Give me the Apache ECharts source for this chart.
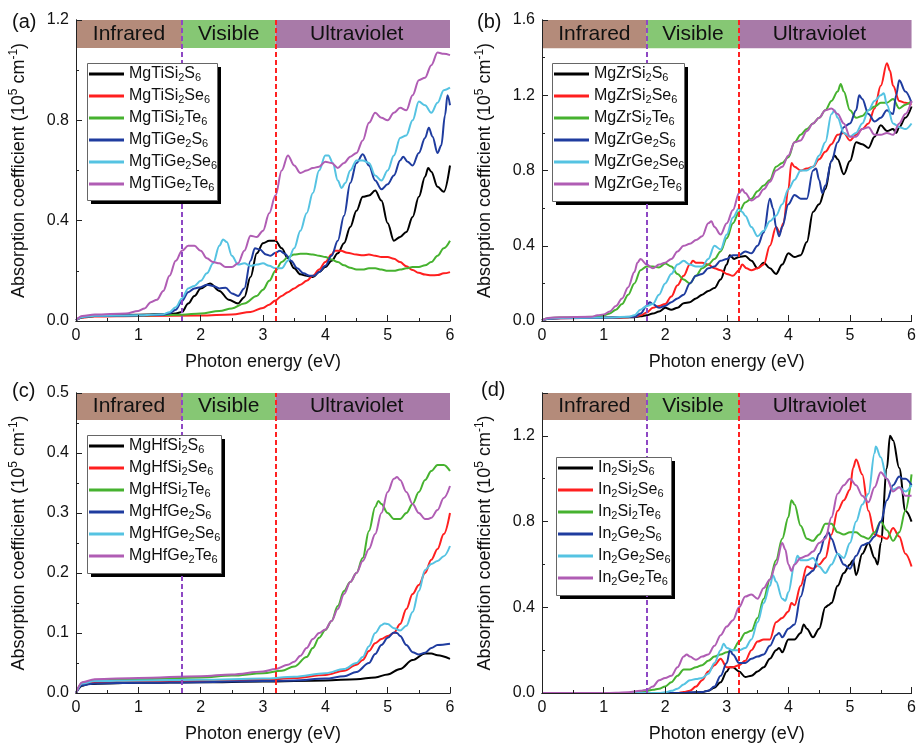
<!DOCTYPE html>
<html>
<head>
<meta charset="utf-8">
<script src="https://cdn.jsdelivr.net/npm/echarts@6/dist/echarts.min.js"></script>
<style>
  html, body { margin: 0; padding: 0; background: #fff; }
  #main { width: 919px; height: 745px; }
</style>
</head>
<body>
<div id="main"></div>
<script>
// 吸收系数数据 (x: eV, y: 10^5 cm^-1)
const panelLabels = ['(a)', '(b)', '(c)', '(d)']
const bandNames = ['Infrared', 'Visible', 'Ultraviolet']
const bandEdges = [0, 1.7, 3.2, 6]
const yMax = [1.2, 1.6, 0.5, 1.4]
const yStep = [0.4, 0.4, 0.1, 0.4]
const bandBottom = [1.088, 1.45, 0.455, 1.274]

const namesA = ['MgTiSi2S6', 'MgTiSi2Se6', 'MgTiSi2Te6', 'MgTiGe2S6', 'MgTiGe2Se6', 'MgTiGe2Te6']
const namesB = ['MgZrSi2S6', 'MgZrSi2Se6', 'MgZrSi2Te6', 'MgZrGe2S6', 'MgZrGe2Se6', 'MgZrGe2Te6']
const namesC = ['MgHfSi2S6', 'MgHfSi2Se6', 'MgHfSi2Te6', 'MgHfGe2S6', 'MgHfGe2Se6', 'MgHfGe2Te6']
const namesD = ['In2Si2S6', 'In2Si2Se6', 'In2Si2Te6', 'In2Ge2S6', 'In2Ge2Se6', 'In2Ge2Te6']

// (a)
const aSiS = [[0,0.003],[0.1,0.015],[0.3,0.022],[1.0,0.025],[1.5,0.028],[1.6,0.03],[1.7,0.036],[1.8,0.07],[1.9,0.1],[2.0,0.13],[2.15,0.15],[2.3,0.12],[2.45,0.085],[2.6,0.07],[2.7,0.095],[2.8,0.175],[2.9,0.27],[3.0,0.31],[3.1,0.32],[3.2,0.32],[3.3,0.29],[3.4,0.25],[3.5,0.21],[3.6,0.186],[3.7,0.18],[3.8,0.175],[3.9,0.195],[4.0,0.215],[4.1,0.24],[4.2,0.27],[4.3,0.31],[4.4,0.375],[4.5,0.44],[4.6,0.495],[4.7,0.5],[4.8,0.52],[4.9,0.48],[5.0,0.39],[5.1,0.32],[5.2,0.335],[5.3,0.355],[5.4,0.415],[5.5,0.495],[5.6,0.575],[5.65,0.61],[5.7,0.595],[5.8,0.535],[5.9,0.515],[6.0,0.62]]
const aSiSe = [[0,0.003],[0.1,0.014],[0.3,0.018],[1.0,0.02],[2.0,0.022],[2.5,0.026],[2.8,0.036],[3.0,0.052],[3.1,0.065],[3.2,0.082],[3.3,0.1],[3.4,0.115],[3.5,0.13],[3.6,0.145],[3.7,0.16],[3.8,0.18],[3.9,0.205],[4.0,0.235],[4.1,0.265],[4.15,0.28],[4.25,0.28],[4.35,0.272],[4.5,0.265],[4.6,0.262],[4.7,0.265],[4.8,0.26],[4.9,0.255],[5.0,0.255],[5.1,0.248],[5.2,0.235],[5.3,0.218],[5.4,0.203],[5.5,0.192],[5.6,0.185],[5.7,0.182],[5.8,0.183],[5.9,0.19],[6.0,0.195]]
const aSiTe = [[0,0.003],[0.1,0.015],[0.3,0.02],[1.0,0.022],[1.7,0.025],[2.0,0.03],[2.3,0.04],[2.5,0.05],[2.7,0.07],[2.9,0.1],[3.0,0.125],[3.1,0.16],[3.2,0.2],[3.3,0.235],[3.4,0.255],[3.5,0.265],[3.6,0.268],[3.7,0.268],[3.8,0.265],[3.9,0.26],[4.0,0.255],[4.1,0.245],[4.2,0.235],[4.3,0.222],[4.4,0.212],[4.5,0.205],[4.6,0.205],[4.7,0.21],[4.8,0.21],[4.9,0.205],[5.0,0.2],[5.1,0.2],[5.2,0.205],[5.3,0.21],[5.4,0.215],[5.5,0.215],[5.6,0.222],[5.7,0.235],[5.8,0.26],[5.9,0.29],[6.0,0.32]]
const aGeS = [[0,0.003],[0.1,0.015],[0.3,0.02],[1.0,0.022],[1.4,0.025],[1.5,0.03],[1.6,0.045],[1.7,0.08],[1.8,0.115],[1.9,0.13],[2.0,0.135],[2.1,0.145],[2.2,0.14],[2.3,0.13],[2.4,0.133],[2.5,0.11],[2.6,0.1],[2.7,0.13],[2.8,0.24],[2.87,0.29],[2.95,0.285],[3.05,0.265],[3.12,0.26],[3.2,0.272],[3.27,0.28],[3.35,0.268],[3.45,0.24],[3.55,0.21],[3.65,0.19],[3.75,0.18],[3.82,0.18],[3.9,0.195],[4.0,0.22],[4.1,0.26],[4.2,0.32],[4.3,0.42],[4.4,0.55],[4.5,0.63],[4.6,0.665],[4.7,0.62],[4.8,0.56],[4.9,0.525],[5.0,0.545],[5.1,0.58],[5.2,0.64],[5.25,0.655],[5.32,0.635],[5.4,0.62],[5.5,0.67],[5.6,0.73],[5.66,0.77],[5.72,0.735],[5.8,0.67],[5.86,0.7],[5.92,0.82],[5.96,0.9],[6.0,0.86]]
const aGeSe = [[0,0.003],[0.1,0.016],[0.3,0.021],[1.0,0.023],[1.4,0.027],[1.5,0.035],[1.6,0.055],[1.7,0.09],[1.8,0.13],[1.9,0.14],[2.0,0.16],[2.1,0.19],[2.2,0.23],[2.3,0.3],[2.36,0.325],[2.42,0.315],[2.5,0.26],[2.6,0.225],[2.7,0.23],[2.8,0.22],[2.9,0.225],[3.0,0.23],[3.1,0.22],[3.2,0.21],[3.3,0.21],[3.4,0.24],[3.5,0.29],[3.6,0.36],[3.7,0.43],[3.8,0.51],[3.9,0.6],[4.0,0.66],[4.05,0.66],[4.12,0.63],[4.2,0.56],[4.26,0.53],[4.32,0.55],[4.4,0.6],[4.5,0.64],[4.6,0.64],[4.7,0.63],[4.8,0.58],[4.9,0.56],[5.0,0.6],[5.1,0.66],[5.2,0.73],[5.3,0.74],[5.4,0.8],[5.5,0.875],[5.6,0.86],[5.7,0.83],[5.8,0.87],[5.9,0.92],[6.0,0.93]]
const aGeTe = [[0,0.003],[0.1,0.02],[0.3,0.026],[0.8,0.03],[1.0,0.04],[1.1,0.05],[1.2,0.075],[1.3,0.085],[1.4,0.12],[1.5,0.18],[1.6,0.24],[1.7,0.28],[1.8,0.3],[1.9,0.3],[2.0,0.28],[2.1,0.25],[2.2,0.235],[2.3,0.23],[2.4,0.215],[2.5,0.215],[2.6,0.23],[2.7,0.28],[2.8,0.34],[2.9,0.335],[3.0,0.36],[3.1,0.43],[3.2,0.5],[3.3,0.6],[3.4,0.66],[3.5,0.62],[3.6,0.59],[3.7,0.6],[3.8,0.61],[3.9,0.615],[4.0,0.635],[4.1,0.63],[4.2,0.61],[4.3,0.63],[4.4,0.655],[4.5,0.67],[4.6,0.72],[4.7,0.79],[4.8,0.83],[4.9,0.81],[5.0,0.8],[5.1,0.83],[5.2,0.85],[5.3,0.84],[5.4,0.9],[5.5,0.96],[5.6,0.97],[5.7,1.02],[5.8,1.07],[5.9,1.065],[6.0,1.06]]

// (b)
const bSiS = [[0,0.003],[0.1,0.012],[0.3,0.016],[1.0,0.018],[1.5,0.02],[1.6,0.025],[1.7,0.03],[1.8,0.04],[1.9,0.05],[2.0,0.07],[2.1,0.06],[2.2,0.07],[2.3,0.095],[2.4,0.1],[2.5,0.12],[2.6,0.14],[2.7,0.16],[2.8,0.175],[2.9,0.22],[3.0,0.3],[3.05,0.35],[3.12,0.33],[3.2,0.34],[3.3,0.345],[3.4,0.32],[3.5,0.28],[3.6,0.31],[3.7,0.28],[3.8,0.25],[3.9,0.3],[4.0,0.36],[4.1,0.34],[4.2,0.35],[4.3,0.42],[4.4,0.58],[4.5,0.62],[4.6,0.7],[4.7,0.85],[4.75,0.88],[4.8,0.86],[4.9,0.78],[5.0,0.85],[5.1,0.95],[5.2,0.94],[5.3,0.92],[5.4,0.98],[5.5,1.04],[5.6,1.01],[5.7,1.02],[5.75,1.0],[5.8,1.03],[5.9,1.08],[6.0,1.14]]
const bSiSe = [[0,0.003],[0.1,0.012],[0.3,0.015],[1.0,0.017],[1.4,0.02],[1.5,0.024],[1.6,0.03],[1.7,0.045],[1.8,0.07],[1.9,0.08],[2.0,0.09],[2.1,0.13],[2.2,0.19],[2.3,0.24],[2.4,0.3],[2.45,0.32],[2.5,0.31],[2.6,0.31],[2.7,0.3],[2.8,0.28],[2.9,0.27],[3.0,0.25],[3.1,0.24],[3.2,0.27],[3.25,0.3],[3.32,0.28],[3.4,0.27],[3.5,0.28],[3.6,0.3],[3.7,0.4],[3.8,0.5],[3.86,0.47],[3.92,0.52],[4.0,0.7],[4.05,0.84],[4.1,0.82],[4.2,0.8],[4.3,0.81],[4.4,0.82],[4.5,0.86],[4.6,0.9],[4.7,0.94],[4.8,0.99],[4.9,1.0],[5.0,0.96],[5.1,0.99],[5.2,1.02],[5.3,1.05],[5.4,1.13],[5.5,1.25],[5.6,1.37],[5.65,1.33],[5.7,1.25],[5.8,1.17],[5.9,1.16],[6.0,1.15]]
const bSiTe = [[0,0.003],[0.1,0.015],[0.3,0.019],[0.9,0.022],[1.0,0.03],[1.1,0.04],[1.2,0.06],[1.3,0.09],[1.4,0.14],[1.5,0.2],[1.6,0.27],[1.7,0.29],[1.8,0.29],[1.9,0.285],[2.0,0.305],[2.1,0.29],[2.2,0.25],[2.3,0.22],[2.4,0.2],[2.5,0.24],[2.6,0.28],[2.7,0.3],[2.8,0.33],[2.9,0.37],[3.0,0.44],[3.1,0.52],[3.2,0.58],[3.3,0.63],[3.4,0.65],[3.5,0.69],[3.6,0.72],[3.7,0.75],[3.8,0.82],[3.9,0.84],[4.0,0.87],[4.1,0.95],[4.2,0.99],[4.3,1.02],[4.4,1.05],[4.5,1.08],[4.6,1.12],[4.7,1.17],[4.8,1.22],[4.85,1.26],[4.9,1.22],[5.0,1.12],[5.1,1.08],[5.2,1.09],[5.3,1.12],[5.4,1.14],[5.5,1.16],[5.6,1.16],[5.7,1.18],[5.8,1.13],[5.9,1.15],[6.0,1.17]]
const bGeS = [[0,0.003],[0.1,0.012],[0.3,0.015],[1.0,0.017],[1.5,0.022],[1.6,0.04],[1.7,0.08],[1.75,0.1],[1.8,0.09],[1.9,0.07],[2.0,0.08],[2.1,0.1],[2.2,0.12],[2.3,0.14],[2.4,0.2],[2.5,0.24],[2.6,0.25],[2.7,0.28],[2.8,0.29],[2.9,0.32],[3.0,0.33],[3.1,0.35],[3.2,0.35],[3.3,0.37],[3.4,0.36],[3.5,0.4],[3.6,0.47],[3.7,0.65],[3.75,0.6],[3.8,0.5],[3.85,0.45],[3.9,0.5],[4.0,0.62],[4.1,0.67],[4.2,0.65],[4.3,0.65],[4.4,0.8],[4.45,0.81],[4.5,0.75],[4.55,0.68],[4.6,0.72],[4.7,0.85],[4.8,0.95],[4.9,1.03],[5.0,1.05],[5.1,1.12],[5.15,1.2],[5.2,1.18],[5.3,1.1],[5.4,1.06],[5.5,1.08],[5.6,1.12],[5.7,1.1],[5.75,1.2],[5.8,1.28],[5.9,1.22],[6.0,1.16]]
const bGeSe = [[0,0.003],[0.1,0.013],[0.3,0.016],[1.0,0.018],[1.4,0.022],[1.5,0.03],[1.6,0.06],[1.7,0.08],[1.8,0.09],[1.9,0.14],[2.0,0.2],[2.1,0.25],[2.2,0.3],[2.3,0.32],[2.4,0.3],[2.5,0.29],[2.6,0.29],[2.7,0.33],[2.8,0.4],[2.9,0.38],[3.0,0.46],[3.1,0.55],[3.2,0.6],[3.25,0.58],[3.3,0.56],[3.4,0.5],[3.5,0.45],[3.6,0.48],[3.7,0.53],[3.8,0.56],[3.9,0.62],[4.0,0.7],[4.1,0.75],[4.2,0.8],[4.3,0.8],[4.4,0.82],[4.5,0.88],[4.6,0.95],[4.7,1.1],[4.75,1.12],[4.8,1.08],[4.9,1.0],[5.0,0.98],[5.1,1.0],[5.2,1.05],[5.3,1.12],[5.4,1.17],[5.5,1.2],[5.55,1.21],[5.6,1.15],[5.7,1.05],[5.8,1.03],[5.9,1.02],[6.0,1.05]]
const bGeTe = [[0,0.003],[0.1,0.016],[0.3,0.02],[0.8,0.022],[0.9,0.03],[1.0,0.035],[1.1,0.05],[1.2,0.08],[1.3,0.12],[1.4,0.18],[1.5,0.26],[1.55,0.31],[1.6,0.33],[1.7,0.3],[1.8,0.28],[1.9,0.3],[2.0,0.31],[2.1,0.33],[2.2,0.37],[2.3,0.4],[2.4,0.41],[2.5,0.43],[2.6,0.45],[2.7,0.52],[2.75,0.53],[2.8,0.5],[2.9,0.46],[3.0,0.52],[3.1,0.59],[3.2,0.68],[3.25,0.7],[3.3,0.68],[3.4,0.64],[3.5,0.66],[3.6,0.7],[3.7,0.74],[3.8,0.8],[3.9,0.82],[4.0,0.88],[4.1,0.95],[4.2,0.96],[4.3,1.01],[4.4,1.05],[4.5,1.08],[4.6,1.12],[4.7,1.13],[4.8,1.1],[4.9,1.05],[5.0,0.98],[5.1,0.98],[5.2,1.02],[5.3,1.03],[5.4,0.99],[5.5,0.99],[5.6,1.0],[5.7,0.99],[5.8,1.05],[5.9,1.1],[6.0,1.17]]

// (c)
const cSiS = [[0,0],[0.1,0.012],[0.2,0.015],[0.5,0.016],[1.0,0.017],[2.0,0.018],[3.0,0.019],[4.0,0.021],[4.5,0.023],[4.8,0.026],[5.0,0.031],[5.2,0.04],[5.4,0.055],[5.6,0.066],[5.7,0.066],[5.8,0.063],[6.0,0.057]]
const cSiSe = [[0,0],[0.1,0.015],[0.3,0.018],[1.0,0.019],[2.0,0.02],[3.0,0.022],[3.5,0.025],[4.0,0.03],[4.3,0.037],[4.5,0.047],[4.6,0.055],[4.7,0.07],[4.8,0.083],[4.9,0.09],[5.0,0.095],[5.1,0.1],[5.2,0.115],[5.3,0.14],[5.4,0.165],[5.5,0.18],[5.6,0.2],[5.7,0.222],[5.8,0.24],[5.9,0.265],[6.0,0.3]]
const cSiTe = [[0,0],[0.1,0.017],[0.3,0.021],[1.0,0.023],[2.0,0.026],[2.5,0.029],[3.0,0.033],[3.3,0.037],[3.5,0.044],[3.7,0.06],[3.8,0.075],[3.9,0.092],[4.0,0.105],[4.1,0.12],[4.2,0.145],[4.3,0.17],[4.4,0.185],[4.5,0.2],[4.6,0.225],[4.7,0.27],[4.8,0.31],[4.85,0.32],[4.9,0.315],[5.0,0.3],[5.1,0.29],[5.2,0.29],[5.3,0.3],[5.4,0.315],[5.5,0.335],[5.6,0.355],[5.7,0.37],[5.8,0.38],[5.9,0.38],[6.0,0.37]]
const cGeS = [[0,0],[0.1,0.013],[0.3,0.016],[1.0,0.017],[2.0,0.018],[3.0,0.02],[3.5,0.021],[4.0,0.024],[4.3,0.028],[4.5,0.035],[4.7,0.05],[4.8,0.065],[4.9,0.08],[5.0,0.092],[5.1,0.101],[5.15,0.1],[5.2,0.095],[5.3,0.08],[5.4,0.068],[5.5,0.064],[5.6,0.067],[5.7,0.075],[5.8,0.08],[6.0,0.082]]
const cGeSe = [[0,0],[0.1,0.016],[0.3,0.02],[1.0,0.021],[2.0,0.022],[3.0,0.024],[3.5,0.027],[4.0,0.033],[4.3,0.04],[4.5,0.05],[4.6,0.06],[4.7,0.078],[4.8,0.1],[4.9,0.113],[4.95,0.116],[5.0,0.115],[5.1,0.108],[5.2,0.104],[5.3,0.112],[5.4,0.135],[5.5,0.17],[5.6,0.205],[5.7,0.215],[5.8,0.22],[5.9,0.228],[6.0,0.245]]
const cGeTe = [[0,0],[0.1,0.018],[0.3,0.023],[1.0,0.025],[2.0,0.028],[2.5,0.031],[3.0,0.036],[3.2,0.04],[3.4,0.047],[3.5,0.052],[3.6,0.062],[3.7,0.075],[3.8,0.09],[3.9,0.1],[4.0,0.106],[4.1,0.12],[4.2,0.14],[4.3,0.165],[4.4,0.185],[4.5,0.2],[4.6,0.22],[4.7,0.24],[4.8,0.265],[4.9,0.3],[5.0,0.335],[5.1,0.357],[5.15,0.36],[5.2,0.355],[5.3,0.335],[5.4,0.315],[5.5,0.3],[5.6,0.29],[5.65,0.29],[5.7,0.292],[5.8,0.305],[5.9,0.325],[6.0,0.345]]

// (d)
const dSiS = [[0,0],[2.4,0],[2.5,0.003],[2.6,0.005],[2.7,0.01],[2.8,0.025],[2.9,0.05],[3.0,0.1],[3.05,0.12],[3.1,0.12],[3.2,0.1],[3.3,0.075],[3.4,0.08],[3.5,0.1],[3.6,0.12],[3.7,0.16],[3.8,0.2],[3.85,0.21],[3.9,0.19],[4.0,0.25],[4.1,0.25],[4.2,0.28],[4.25,0.32],[4.3,0.3],[4.4,0.26],[4.5,0.3],[4.6,0.4],[4.65,0.41],[4.7,0.42],[4.8,0.5],[4.9,0.56],[5.0,0.6],[5.05,0.62],[5.1,0.55],[5.2,0.65],[5.3,0.7],[5.4,0.63],[5.45,0.6],[5.5,0.7],[5.6,1.05],[5.65,1.2],[5.7,1.18],[5.8,1.05],[5.9,0.85],[6.0,0.8]]
const dSiSe = [[0,0],[2.2,0],[2.3,0.005],[2.4,0.01],[2.5,0.03],[2.6,0.06],[2.7,0.1],[2.8,0.13],[2.9,0.16],[3.0,0.12],[3.1,0.12],[3.2,0.13],[3.3,0.15],[3.4,0.2],[3.5,0.24],[3.6,0.25],[3.7,0.25],[3.8,0.33],[3.9,0.35],[4.0,0.38],[4.05,0.42],[4.1,0.41],[4.2,0.5],[4.3,0.59],[4.4,0.58],[4.5,0.6],[4.6,0.63],[4.7,0.74],[4.8,0.85],[4.9,0.9],[5.0,0.95],[5.05,1.05],[5.1,1.09],[5.2,1.02],[5.3,0.85],[5.4,0.74],[5.5,0.73],[5.6,0.72],[5.7,0.77],[5.8,0.73],[5.9,0.65],[6.0,0.59]]
const dSiTe = [[0,0],[1.4,0],[1.5,0.003],[1.6,0.005],[1.7,0.01],[1.8,0.015],[1.9,0.02],[2.0,0.03],[2.1,0.05],[2.2,0.08],[2.3,0.11],[2.4,0.11],[2.5,0.12],[2.6,0.13],[2.7,0.15],[2.8,0.17],[2.9,0.18],[3.0,0.19],[3.1,0.2],[3.2,0.24],[3.3,0.28],[3.4,0.29],[3.5,0.35],[3.6,0.44],[3.7,0.53],[3.8,0.62],[3.9,0.72],[4.0,0.82],[4.05,0.9],[4.1,0.88],[4.2,0.78],[4.3,0.72],[4.4,0.71],[4.5,0.74],[4.6,0.79],[4.7,0.79],[4.8,0.75],[4.9,0.74],[5.0,0.75],[5.1,0.75],[5.2,0.73],[5.3,0.72],[5.4,0.75],[5.5,0.8],[5.6,0.76],[5.7,0.71],[5.8,0.75],[5.9,0.85],[6.0,1.02]]
const dGeS = [[0,0],[2.3,0],[2.4,0.003],[2.6,0.005],[2.7,0.01],[2.8,0.03],[2.9,0.08],[3.0,0.14],[3.05,0.2],[3.1,0.18],[3.2,0.14],[3.3,0.14],[3.4,0.16],[3.5,0.17],[3.6,0.18],[3.7,0.22],[3.8,0.27],[3.85,0.28],[3.9,0.26],[4.0,0.3],[4.1,0.32],[4.2,0.45],[4.3,0.55],[4.4,0.57],[4.5,0.65],[4.6,0.73],[4.65,0.75],[4.7,0.72],[4.8,0.65],[4.9,0.6],[5.0,0.58],[5.1,0.64],[5.2,0.69],[5.3,0.7],[5.4,0.73],[5.5,0.8],[5.6,0.9],[5.7,0.97],[5.8,1.01],[5.85,1.0],[5.9,1.0],[6.0,0.97]]
const dGeSe = [[0,0],[1.9,0],[2.0,0.003],[2.1,0.01],[2.2,0.02],[2.3,0.04],[2.4,0.06],[2.5,0.065],[2.6,0.07],[2.7,0.09],[2.8,0.14],[2.9,0.2],[2.95,0.23],[3.0,0.21],[3.1,0.2],[3.2,0.2],[3.3,0.21],[3.4,0.25],[3.5,0.33],[3.6,0.42],[3.7,0.5],[3.75,0.55],[3.8,0.52],[3.9,0.44],[3.95,0.43],[4.0,0.47],[4.1,0.6],[4.15,0.64],[4.2,0.62],[4.3,0.62],[4.4,0.63],[4.5,0.59],[4.6,0.56],[4.7,0.6],[4.8,0.65],[4.9,0.63],[5.0,0.7],[5.1,0.8],[5.2,0.88],[5.3,0.93],[5.4,1.12],[5.42,1.15],[5.5,1.1],[5.6,1.0],[5.7,0.95],[5.8,0.96],[5.9,0.94],[6.0,0.97]]
const dGeTe = [[0,0],[1.0,0],[1.2,0.001],[1.4,0.003],[1.6,0.01],[1.7,0.015],[1.8,0.03],[1.9,0.06],[2.0,0.07],[2.1,0.08],[2.2,0.12],[2.3,0.17],[2.35,0.18],[2.4,0.17],[2.5,0.155],[2.6,0.17],[2.7,0.18],[2.8,0.22],[2.9,0.27],[3.0,0.31],[3.1,0.34],[3.2,0.4],[3.3,0.45],[3.4,0.46],[3.5,0.44],[3.6,0.49],[3.7,0.53],[3.8,0.6],[3.9,0.7],[3.95,0.67],[4.0,0.6],[4.05,0.57],[4.1,0.6],[4.2,0.63],[4.3,0.64],[4.4,0.66],[4.5,0.7],[4.6,0.72],[4.7,0.82],[4.8,0.93],[4.9,0.97],[5.0,1.0],[5.1,0.97],[5.2,0.92],[5.3,0.89],[5.4,0.96],[5.5,1.03],[5.6,1.0],[5.7,0.94],[5.8,0.96],[5.9,0.92],[6.0,0.92]]

const panelNames = [namesA, namesB, namesC, namesD]
const panelData = [
  [aSiS, aSiSe, aSiTe, aGeS, aGeSe, aGeTe],
  [bSiS, bSiSe, bSiTe, bGeS, bGeSe, bGeTe],
  [cSiS, cSiSe, cSiTe, cGeS, cGeSe, cGeTe],
  [dSiS, dSiSe, dSiTe, dGeS, dGeSe, dGeTe],
]

const FONT = 'Liberation Sans, Arial, Helvetica, sans-serif'
const lineColors = ['#000000', '#ff1f1f', '#46b22f', '#1f3c9f', '#55c3e2', '#b05db4']
const bandColors = ['#b48b7a', '#86c774', '#a87aa8']
const axisColor = '#222'

const grids = [
  { left: 76, top: 20, width: 374, height: 301 },
  { left: 542, top: 20, width: 373, height: 301 },
  { left: 76, top: 393, width: 374, height: 300 },
  { left: 542, top: 393, width: 373, height: 300 },
]
// 图例框位置和大小
const legendBox = [
  { left: 87, top: 63, width: 130, height: 137 },
  { left: 552, top: 63, width: 132, height: 138 },
  { left: 87, top: 435, width: 134, height: 138 },
  { left: 556, top: 457, width: 115, height: 138 },
]
const labelPos = [[12, 12], [477, 12], [12, 381], [481, 380]]

// 下标: MgTiSi2S6 -> rich text
function subFmt(name) {
  return name.replace(/(\D+)|(\d+)/g, (m, a, d) => (a ? '{n|' + a + '}' : '{s|' + d + '}'))
}

let xAxis = []
let yAxis = []
let series = []
let legend = []
let graphic = []

for (let i = 0; i < 4; i++) {
  xAxis.push({
    type: 'value', gridIndex: i, min: 0, max: 6, interval: 1, z: 10,
    axisLine: { show: true, lineStyle: { color: axisColor, width: 1 } },
    axisTick: { show: true, inside: true, length: 6, lineStyle: { color: axisColor } },
    minorTick: { show: true, splitNumber: 2, length: 3, lineStyle: { color: axisColor } },
    axisLabel: { fontSize: 16, color: '#111', margin: 7, fontFamily: FONT },
    splitLine: { show: false },
    minorSplitLine: { show: false },
    name: 'Photon energy (eV)', nameLocation: 'middle', nameGap: 32,
    nameTextStyle: { fontSize: 18, color: '#111', fontFamily: FONT },
  })
  yAxis.push({
    type: 'value', gridIndex: i, min: 0, max: yMax[i], interval: yStep[i], z: 10,
    axisLine: { show: true, lineStyle: { color: axisColor, width: 1 } },
    axisTick: { show: true, inside: true, length: 6, lineStyle: { color: axisColor } },
    minorTick: { show: true, splitNumber: 2, length: 3, lineStyle: { color: axisColor } },
    axisLabel: { fontSize: 16, color: '#111', margin: 7, fontFamily: FONT, showMaxLabel: i !== 3,
      formatter: (v) => v.toFixed(1) },
    splitLine: { show: false },
    minorSplitLine: { show: false },
    name: 'Absorption coefficient (10{sup|5} cm{sup|-1})', nameLocation: 'middle', nameGap: 46,
    nameTextStyle: { fontSize: 18, color: '#111', fontFamily: FONT, lineHeight: 22,
      rich: { sup: { fontSize: 12, verticalAlign: 'top', lineHeight: 12, fontFamily: FONT, color: '#111' } } },
  })
}
// 上边框和右边框
for (let i = 0; i < 4; i++) {
  xAxis.push({
    type: 'value', gridIndex: i, position: 'top', min: 0, max: 6, z: 10,
    axisLine: { show: true, lineStyle: { color: axisColor, width: 1 } },
    axisTick: { show: false }, axisLabel: { show: false }, splitLine: { show: false },
  })
  yAxis.push({
    type: 'value', gridIndex: i, position: 'right', min: 0, max: yMax[i], z: 10,
    axisLine: { show: true, lineStyle: { color: axisColor, width: 1 } },
    axisTick: { show: false }, axisLabel: { show: false }, splitLine: { show: false },
  })
}

for (let i = 0; i < 4; i++) {
  // 光谱区域色带 + 分界虚线
  series.push({
    type: 'line', xAxisIndex: i, yAxisIndex: i, data: [], silent: true, z: 1,
    markArea: {
      silent: true,
      label: { show: true, position: 'inside', fontSize: 21, color: '#111', fontFamily: FONT },
      itemStyle: { opacity: 1, borderWidth: 0 },
      data: bandNames.map((b, k) => [
        { name: b, xAxis: bandEdges[k], yAxis: bandBottom[i], itemStyle: { color: bandColors[k] },
          label: { offset: [k === 2 ? -6 : 0, 0] } },
        { xAxis: bandEdges[k + 1], yAxis: yMax[i] },
      ]),
    },
    markLine: {
      silent: true, symbol: ['none', 'none'], label: { show: false },
      lineStyle: { type: [5, 3], width: 2 },
      data: [
        { xAxis: bandEdges[1], lineStyle: { color: '#8e48c4', type: [5, 3], width: 2 } },
        { xAxis: bandEdges[2], lineStyle: { color: '#ff2222', type: [5, 3], width: 2 } },
      ],
    },
  })
  panelNames[i].forEach((nm, k) => {
    series.push({
      name: nm, type: 'line', xAxisIndex: i, yAxisIndex: i, z: 3,
      data: panelData[i][k], showSymbol: false, smooth: 0.35, smoothMonotone: 'x',
      lineStyle: { color: lineColors[k], width: 2 },
      itemStyle: { color: lineColors[k] },
    })
  })
  legend.push({
    data: panelNames[i], orient: 'vertical', z: 8,
    left: legendBox[i].left, top: legendBox[i].top,
    icon: 'rect', itemWidth: 35, itemHeight: 3, itemGap: 5,
    padding: [3, 4, 5, 2],
    backgroundColor: 'transparent', borderWidth: 0,
    formatter: subFmt,
    textStyle: {
      color: '#111', fontFamily: FONT,
      rich: {
        n: { fontSize: 16, lineHeight: 18, color: '#111', fontFamily: FONT },
        s: { fontSize: 11, verticalAlign: 'bottom', color: '#111', fontFamily: FONT },
      },
    },
  })
  // 图例背景框: 黑色阴影块 + 白底灰边框
  graphic.push({
    type: 'rect', left: legendBox[i].left + 4, top: legendBox[i].top + 4, z: 5, silent: true,
    shape: { width: legendBox[i].width, height: legendBox[i].height },
    style: { fill: '#000' },
  })
  graphic.push({
    type: 'rect', left: legendBox[i].left, top: legendBox[i].top, z: 6, silent: true,
    shape: { width: legendBox[i].width, height: legendBox[i].height },
    style: { fill: '#fff', stroke: '#666', lineWidth: 1 },
  })
  graphic.push({
    type: 'text', left: labelPos[i][0], top: labelPos[i][1],
    style: { text: panelLabels[i], fontSize: 20, fill: '#111', fontFamily: FONT },
  })
}

let myChart = echarts.init(document.getElementById('main'), null, { renderer: 'canvas' })
let option = {
  animation: false,
  backgroundColor: '#fff',
  grid: grids,
  xAxis: xAxis,
  yAxis: yAxis,
  legend: legend,
  graphic: graphic,
  series: series,
}
myChart.setOption(option)
</script>
</body>
</html>
